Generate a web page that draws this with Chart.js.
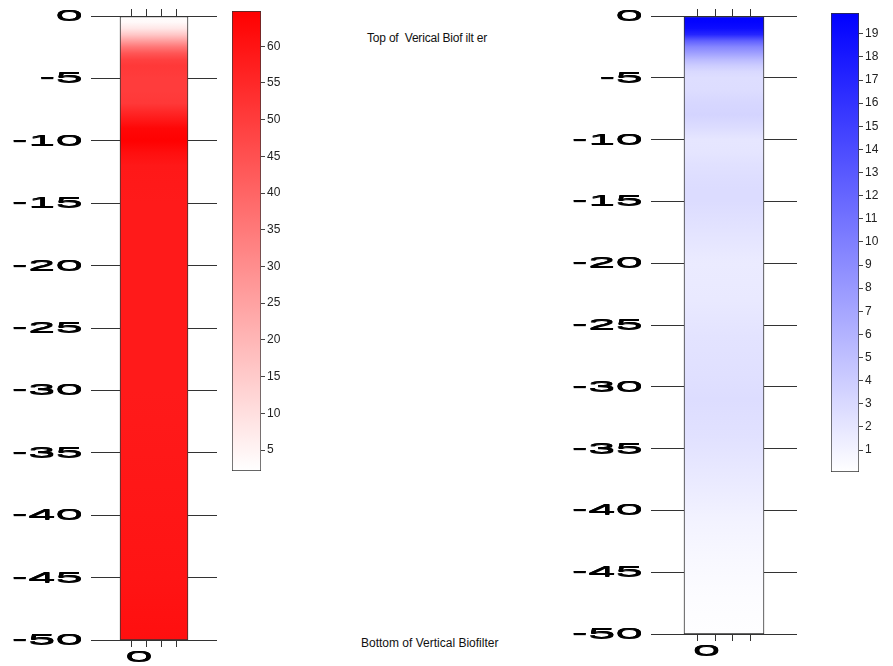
<!DOCTYPE html>
<html>
<head>
<meta charset="utf-8">
<script src="https://cdn.jsdelivr.net/npm/chart.js@4.4.1/dist/chart.umd.min.js"></script>
<style>
  body { margin: 0; background: #fff; width: 893px; height: 666px; position: relative; overflow: hidden; font-family: "Liberation Sans", Arial, sans-serif; }
  .box { position: absolute; }
  .note { position: absolute; color: #111; white-space: nowrap; }
</style>
</head>
<body>
<div class="box" style="left:0;top:0;width:225px;height:666px"><canvas id="leftCol"></canvas></div>
<div class="box" style="left:225px;top:0;width:80px;height:666px"><canvas id="leftBar"></canvas></div>
<div class="box" style="left:540px;top:0;width:270px;height:666px"><canvas id="rightCol"></canvas></div>
<div class="box" style="left:820px;top:0;width:73px;height:666px"><canvas id="rightBar"></canvas></div>
<div class="note" style="left:367px;top:31px;font-size:12px;letter-spacing:-0.2px">Top of &nbsp;Verical Biof ilt er</div>
<div class="note" style="left:361px;top:636px;font-size:12px">Bottom of Vertical Biofilter</div>
<script>
// depth axis
const depthTicks = [0, -5, -10, -15, -20, -25, -30, -35, -40, -45, -50];
const xTicks = [0, 1, 2];

// left column (red scale)
const leftDepths = [0, -0.5, -1, -1.5, -2, -2.5, -3, -3.5, -4, -5, -6, -7, -8, -9, -10, -11, -12, -15, -20, -25, -30, -35, -40, -45, -50];
const leftValues = [2.5, 3.5, 8, 16, 26, 36, 44, 49, 51, 50, 50, 51, 57, 63, 64.5, 61, 59, 58.5, 58.5, 58.5, 58.5, 59, 59.5, 60, 61];
const leftRange = [2.14, 64.8];
const leftBarTicks = [5, 10, 15, 20, 25, 30, 35, 40, 45, 50, 55, 60];

// right column (blue scale)
const rightDepths = [0, -0.5, -1, -1.5, -2, -2.5, -3, -3.5, -4, -4.5, -5, -6, -7, -8, -9, -10, -11, -12, -13, -14, -15, -17, -20, -23, -26, -29, -31, -34, -38, -41, -44, -47, -50];
const rightValues = [19.8, 19.6, 19, 17, 12.5, 9.5, 7.5, 5.5, 4, 3, 2.6, 2.7, 3.2, 3.4, 2.8, 2.0, 2.1, 2.4, 2.6, 2.8, 2.8, 2.3, 1.6, 1.8, 2.2, 2.5, 2.7, 2.4, 1.6, 1.0, 0.6, 0.3, 0.1];
const rightRange = [0.05, 19.9];
const rightBarTicks = [1, 2, 3, 4, 5, 6, 7, 8, 9, 10, 11, 12, 13, 14, 15, 16, 17, 18, 19];

const RED = [255, 0, 0];
const BLUE = [0, 0, 255];

function shade(base, range, v) {
    let t = (v - range[0]) / (range[1] - range[0]);
    t = Math.max(0, Math.min(1, t));
    const c = base.map(b => Math.round(255 + t * (b - 255)));
    return `rgb(${c[0]},${c[1]},${c[2]})`;
}

// stretched axis labels, like the original plot font
function wideText(ctx, text, x, y, align) {
    ctx.save();
    ctx.translate(x, Math.round(y));
    ctx.scale(3.3, 1);
    ctx.textAlign = align;
    // a few passes shifted vertically to thicken the flat strokes
    [-0.5, 0, 0.5].forEach(dy => ctx.fillText(text, 0, dy));
    ctx.restore();
}

const wideLabels = {
    id: 'wideLabels',
    afterDraw(chart) {
        const ctx = chart.ctx;
        const y = chart.scales.y;
        const x = chart.scales.x;
        ctx.save();
        ctx.fillStyle = '#000';
        ctx.font = '15px "Liberation Sans", Arial, sans-serif';
        ctx.textBaseline = 'middle';
        y.ticks.forEach(t => {
            wideText(ctx, String(t.value), y.right - 8, y.getPixelForValue(t.value), 'right');
        });
        wideText(ctx, '0', x.getPixelForValue(0), x.top + 17, 'center');
        ctx.restore();
    }
};

function makeColumn(id, depths, values, base, range, o) {
    new Chart(document.getElementById(id), {
        type: 'bar',
        data: {
            datasets: [{
                data: [{ x: 1, y: [depthTicks[depthTicks.length - 1], depthTicks[0]] }],
                barThickness: o.barPx,
                grouped: false,
                borderWidth: 1,
                borderColor: '#333',
                borderSkipped: false,
                backgroundColor: (c) => {
                    const chart = c.chart;
                    if (!chart.chartArea) return 'rgba(0,0,0,0)';
                    const ys = chart.scales.y;
                    const top = ys.getPixelForValue(depths[0]);
                    const bot = ys.getPixelForValue(depths[depths.length - 1]);
                    const g = chart.ctx.createLinearGradient(0, top, 0, bot);
                    depths.forEach((d, i) => {
                        g.addColorStop((ys.getPixelForValue(d) - top) / (bot - top), shade(base, range, values[i]));
                    });
                    return g;
                }
            }]
        },
        options: {
            responsive: true,
            maintainAspectRatio: false,
            animation: false,
            layout: { padding: { right: o.rightPad } },
            plugins: { legend: { display: false }, tooltip: { enabled: false } },
            scales: {
                x: {
                    type: 'linear', position: 'bottom', min: -1.8, max: 3.8,
                    afterBuildTicks: s => { s.ticks = xTicks.map(v => ({ value: v })); },
                    ticks: { display: false },
                    grid: { drawOnChartArea: false, tickLength: 7, color: '#333' },
                    border: { display: false },
                    afterFit: s => { s.height = o.bottomH; }
                },
                xTop: {
                    type: 'linear', position: 'top', min: -1.8, max: 3.8,
                    afterBuildTicks: s => { s.ticks = xTicks.map(v => ({ value: v })); },
                    ticks: { display: false },
                    grid: { drawOnChartArea: false, tickLength: 7, color: '#333' },
                    border: { display: false },
                    afterFit: s => { s.height = 16; }
                },
                y: {
                    type: 'linear', min: -50, max: 0,
                    afterBuildTicks: s => { s.ticks = depthTicks.map(v => ({ value: v })); },
                    ticks: { display: false },
                    grid: { drawTicks: false, color: '#333' },
                    border: { display: false },
                    afterFit: s => { s.width = o.yWidth; }
                }
            }
        },
        plugins: [wideLabels]
    });
}

function makeColorbar(id, base, range, tickVals, o) {
    new Chart(document.getElementById(id), {
        type: 'bar',
        data: {
            labels: [''],
            datasets: [{
                data: [[range[0], range[1]]],
                barPercentage: 1,
                categoryPercentage: 1,
                borderWidth: 1,
                borderColor: '#333',
                borderSkipped: false,
                backgroundColor: (c) => {
                    const chart = c.chart;
                    if (!chart.chartArea) return 'rgba(0,0,0,0)';
                    const ys = chart.scales.y;
                    const g = chart.ctx.createLinearGradient(0, ys.getPixelForValue(range[0]), 0, ys.getPixelForValue(range[1]));
                    g.addColorStop(0, shade(base, range, range[0]));
                    g.addColorStop(1, shade(base, range, range[1]));
                    return g;
                }
            }]
        },
        options: {
            responsive: true,
            maintainAspectRatio: false,
            animation: false,
            layout: { padding: { left: o.left, top: o.top, bottom: o.bottom, right: 0 } },
            plugins: { legend: { display: false }, tooltip: { enabled: false } },
            scales: {
                x: { display: false },
                y: {
                    position: 'right', min: range[0], max: range[1],
                    afterBuildTicks: s => { s.ticks = tickVals.map(v => ({ value: v })); },
                    ticks: { color: '#222', padding: 2, font: { family: '"Liberation Sans", Arial, sans-serif', size: 12 } },
                    grid: { drawOnChartArea: false, tickLength: 4, color: '#444' },
                    border: { display: false },
                    afterFit: s => { s.width = o.yWidth; }
                }
            }
        }
    });
}

makeColumn('leftCol', leftDepths, leftValues, RED, leftRange, { yWidth: 91, rightPad: 8, bottomH: 26, barPx: 68 });
makeColumn('rightCol', rightDepths, rightValues, BLUE, rightRange, { yWidth: 111, rightPad: 13, bottomH: 32, barPx: 80 });
makeColorbar('leftBar', RED, leftRange, leftBarTicks, { left: 7, top: 11, bottom: 195, yWidth: 44 });
makeColorbar('rightBar', BLUE, rightRange, rightBarTicks, { left: 11, top: 13, bottom: 194, yWidth: 34 });
</script>
</body>
</html>
